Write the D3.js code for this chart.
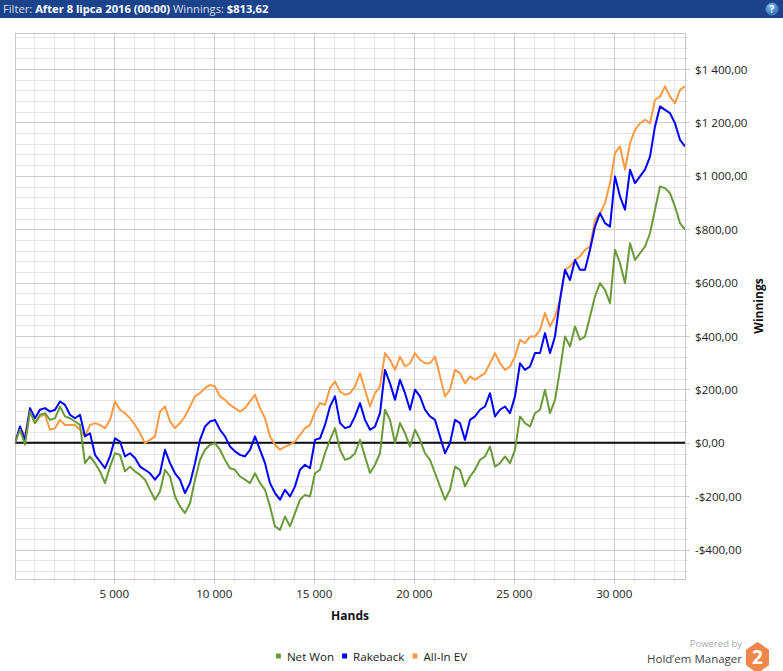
<!DOCTYPE html>
<html><head><meta charset="utf-8">
<script src="https://cdn.jsdelivr.net/npm/d3@7"></script>
<style>
body{margin:0;background:#fff;}
svg{display:block;font-family:"Open Sans","Noto Sans",sans-serif;}
</style></head><body>
<svg id="c" width="783" height="671"></svg>
<script>
// ---- data ----
const handStart = 35, handStep = 250;
const netWon = [0,49,-7,117,74,105,111,86,92,136,99,92,80,67,-76,-51,-76,-107,-151,-89,-39,-45,-107,-89,-107,-120,-138,-176,-213,-182,-101,-126,-201,-238,-263,-226,-138,-64,-26,-7,-1,-26,-64,-95,-101,-126,-138,-151,-114,-151,-176,-238,-313,-326,-276,-313,-263,-213,-195,-201,-114,-101,-39,11,55,-26,-64,-57,-39,
11,-51,-113,-82,-39,124,86,-1,74,36,-14,49,11,-39,-64,-113,-163,-213,-176,-89,-101,-163,-126,-101,-64,-51,-14,-89,-76,-51,-76,-26,99,74,61,111,124,199,111,161,273,398,361,436,386,398,473,548,598,573,523,723,673,598,748,685,710,735,785,873,960,954,935,885,823,798];
const rakeback = [0,61,11,130,92,124,130,117,124,155,142,105,92,105,24,36,-45,-70,-95,-51,17,5,-51,-39,-57,-89,-101,-114,-138,-114,-26,-76,-114,-138,-188,-151,-76,11,61,80,86,49,24,-14,-32,-45,-51,-26,24,-26,-76,-151,-188,-213,-176,-201,-163,-101,-82,-95,11,17,67,136,174,74,55,61,99,
149,86,49,61,111,273,223,161,236,186,124,199,174,124,99,86,24,-39,-1,86,74,11,86,99,124,136,186,99,124,136,111,174,298,273,286,336,336,411,336,398,536,648,610,685,648,648,723,810,860,823,810,998,923,873,1023,973,998,1023,1072,1185,1260,1247,1235,1197,1135,1110];
const allInEV = [0,55,30,124,74,99,105,49,55,86,67,67,67,49,24,67,74,67,55,86,155,124,111,92,67,36,-1,11,24,117,136,80,55,74,99,136,174,186,205,217,211,174,161,142,130,117,130,155,180,130,92,24,-7,-26,-14,-7,5,30,55,67,117,149,142,205,230,192,180,186,211,
261,199,136,186,211,336,311,273,323,286,298,336,311,298,298,323,249,174,199,273,261,223,249,236,249,261,298,336,298,273,286,323,386,373,398,398,423,486,436,473,536,648,660,685,698,723,735,835,860,898,973,1085,1110,1023,1122,1172,1197,1210,1197,1285,1297,1335,1297,1272,1322,1335];
const seriesNames = ["Net Won","Rakeback","All-In EV"];
const seriesColors = ["#6b9a3b","#0000ff","#fb9a42"];
const xTicks = [5000,10000,15000,20000,25000,30000];
const yTicks = [-400,-200,0,200,400,600,800,1000,1200,1400];
const headerParts = [["Filter: ",false],["After 8 lipca 2016 (00:00)",true],[" Winnings: ",false],["$813,62",true]];
const xTitle = "Hands", yTitle = "Winnings";

// ---- layout ----
const W = 783, H = 671;
const L = 15, R = 685, T = 33, B = 579;
const svg = d3.select("#c");
const x = d3.scaleLinear().domain([handStart, handStart + handStep*134]).range([L, R]);
const y = d3.scaleLinear().domain([-510, 1535]).range([B, T]);
const loc = d3.formatLocale({decimal:",", thousands:"\u00a0", grouping:[3], currency:["$",""], minus:"-"});
const fmtY = v => loc.format("$,.2f")(v).replace(/\u00a0/g," ");
const fmtX = v => loc.format(",")(v).replace(/\u00a0/g," ");
const px = v => Math.round(v) + 0.5;

// header
svg.append("rect").attr("x",0).attr("y",0).attr("width",W).attr("height",18).attr("fill","#1b438b");
const ht = svg.append("text").attr("x",3).attr("y",13).attr("font-size",11.2).attr("fill","#d6deec");
headerParts.forEach(([t,b]) => ht.append("tspan").text(t).attr("font-weight",b?"bold":"normal").attr("fill",b?"#ffffff":"#d6deec"));
const grad = svg.append("defs").append("radialGradient").attr("id","hg").attr("cx","40%").attr("cy","30%").attr("r","70%");
grad.append("stop").attr("offset","0%").attr("stop-color","#8fc3f0");
grad.append("stop").attr("offset","100%").attr("stop-color","#2a6db5");
svg.append("circle").attr("cx",772).attr("cy",9).attr("r",6).attr("fill","url(#hg)").attr("stroke","#6aa3dc").attr("stroke-width",0.6);
svg.append("text").attr("x",772).attr("y",12.5).attr("text-anchor","middle").attr("font-size",10).attr("font-weight","bold").attr("fill","#fff").text("?");

// grid
const g = svg.append("g").attr("shape-rendering","crispEdges");
const xMinor = d3.range(1000, 33501, 1000).filter(v => v % 5000 !== 0);
const yMinor = d3.range(-480, 1521, 40).filter(v => v % 200 !== 0);
const yMajorAll = d3.range(-400, 1401, 200);
g.selectAll(".xm").data(xMinor).join("line").attr("x1",d=>px(x(d))).attr("x2",d=>px(x(d))).attr("y1",T).attr("y2",B+3).attr("stroke","#e4e4e4");
g.selectAll(".ym").data(yMinor).join("line").attr("y1",d=>px(y(d))).attr("y2",d=>px(y(d))).attr("x1",L).attr("x2",R+3).attr("stroke","#e4e4e4");
g.selectAll(".xM").data(xTicks).join("line").attr("x1",d=>px(x(d))).attr("x2",d=>px(x(d))).attr("y1",T).attr("y2",B+5).attr("stroke","#cccccc");
g.selectAll(".yM").data(yMajorAll).join("line").attr("y1",d=>px(y(d))).attr("y2",d=>px(y(d))).attr("x1",L).attr("x2",R+5).attr("stroke","#cccccc");
g.append("rect").attr("x",L+0.5).attr("y",T+0.5).attr("width",R-L).attr("height",B-T).attr("fill","none").attr("stroke","#c8c8c8");

// zero line
svg.append("line").attr("x1",L).attr("x2",R).attr("y1",y(0)).attr("y2",y(0)).attr("stroke","#111").attr("stroke-width",2);

// series
svg.append("defs").append("clipPath").attr("id","clip").append("rect").attr("x",L).attr("y",T).attr("width",R-L).attr("height",B-T);
const line = d3.line().x((d,i)=>x(handStart + i*handStep)).y(d=>y(d));
const seriesData = [netWon, rakeback, allInEV];
const sg = svg.append("g").attr("clip-path","url(#clip)");
[2,1,0].forEach(k => sg.append("path").datum(seriesData[k]).attr("d",line).attr("fill","none")
  .attr("stroke",seriesColors[k]).attr("stroke-width",2).attr("stroke-linejoin","round"));

// y axis labels
svg.selectAll(".yl").data(yTicks).join("text").attr("x",695).attr("y",d=>y(d)+4.5)
  .attr("font-size",11.6).attr("fill","#222").text(fmtY);
// x axis labels
svg.selectAll(".xl").data(xTicks).join("text").attr("x",d=>x(d)).attr("y",598).attr("text-anchor","middle")
  .attr("font-size",11.6).attr("fill","#222").text(fmtX);
// titles
svg.append("text").attr("x",(L+R)/2).attr("y",620).attr("text-anchor","middle").attr("font-size",12).attr("font-weight","bold").attr("fill","#111").text(xTitle);
svg.append("text").attr("transform",`translate(763,${(T+B)/2}) rotate(-90)`).attr("text-anchor","middle").attr("font-size",12).attr("font-weight","bold").attr("fill","#111").text(yTitle);

// legend
const lg = svg.append("g");
let cx = 0;
seriesNames.forEach((n,k) => {
  const it = lg.append("g");
  it.append("rect").attr("x",0).attr("y",-7.5).attr("width",5).attr("height",5).attr("fill",seriesColors[k]);
  const t = it.append("text").attr("x",11).attr("y",0).attr("font-size",11.6).attr("fill","#222").text(n);
  const w = 11 + t.node().getComputedTextLength();
  it.attr("transform",`translate(${cx},661)`);
  cx += w + 8;
});
const totalW = cx - 8;
lg.attr("transform",`translate(${371.5 - totalW/2},0)`);

// powered by
svg.append("text").attr("x",742).attr("y",647).attr("text-anchor","end").attr("font-size",9.5).attr("fill","#a8a8a8").text("Powered by");
svg.append("text").attr("x",742).attr("y",663).attr("text-anchor","end").attr("font-size",11.5).attr("fill","#444").text("Hold\u2019em Manager");
const hx = 757.5, hy = 657.5, hw = 10.5, hh = 14.5;
svg.append("path").attr("d",`M${hx},${hy-hh} L${hx+hw},${hy-hh/2} L${hx+hw},${hy+hh/2} L${hx},${hy+hh} L${hx-hw},${hy+hh/2} L${hx-hw},${hy-hh/2} Z`)
  .attr("fill","#f0874a").attr("stroke","#f0874a").attr("stroke-width",2).attr("stroke-linejoin","round");
svg.append("text").attr("x",hx).attr("y",hy+6.5).attr("text-anchor","middle").attr("font-size",19).attr("font-weight","bold").attr("fill","#fff").text("2");
</script></body></html>
